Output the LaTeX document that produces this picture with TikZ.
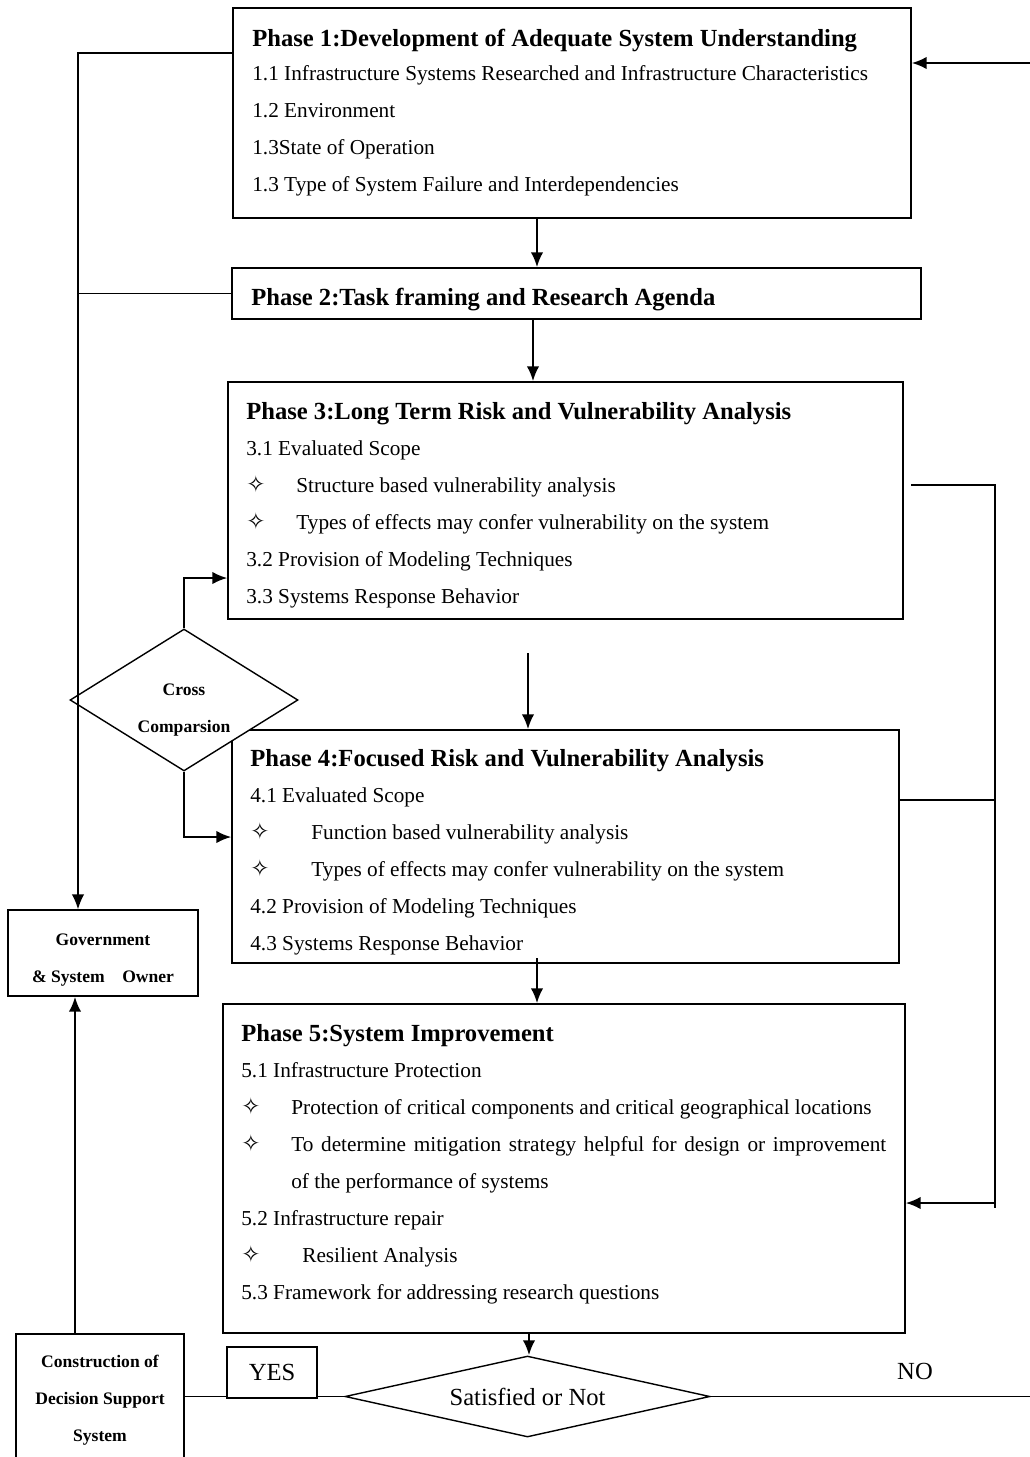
\documentclass[tikz,border=0pt]{standalone}
\usepackage{fontspec}
\setmainfont{Liberation Serif}
\newfontfamily\symfont{DejaVu Sans}
\usetikzlibrary{arrows.meta,shapes.geometric}
\tikzset{
  phasebox/.style = {draw=black, line width=0.8pt, rectangle, inner sep=0pt},
  headtext/.style = {anchor=base west, inner sep=0pt, font=\fontsize{14}{16}\selectfont\bfseries},
  itemtext/.style = {anchor=base west, inner sep=0pt, font=\fontsize{12.1}{14}\selectfont},
  starmark/.style = {anchor=base west, inner sep=0pt, font=\fontsize{13}{15}\symfont},
  smallbold/.style = {align=center, font=\fontsize{10}{21}\selectfont\bfseries},
  decision/.style = {diamond, draw=black, line width=0.8pt, fill=white, inner sep=0pt},
  flow/.style = {line width=1.3pt, -{Latex[length=0.3cm,width=0.25cm]}},
  feed/.style = {line width=0.8pt, -{Latex[length=0.3cm,width=0.25cm]}},
  link/.style = {line width=0.8pt},
}

\begin{document}
\begin{tikzpicture}[x=0.02cm, y=-0.02cm]
\useasboundingbox (0,0) rectangle (1030,1457);
\clip (0,0) rectangle (1030,1457);

% phase boxes
\node [phasebox, minimum width=13.56cm, minimum height=4.2cm] (P1) at (572,113) {};
\node [phasebox, minimum width=13.78cm, minimum height=1.02cm] (P2) at (576.5,293.5) {};
\node [phasebox, minimum width=13.5cm, minimum height=4.74cm] (P3) at (565.5,500.5) {};
\node [phasebox, minimum width=13.34cm, minimum height=4.66cm] (P4) at (565.5,846.5) {};
\node [phasebox, minimum width=13.64cm, minimum height=6.58cm] (P5) at (564,1168.5) {};

% phase 1
\node [headtext] (p1h) at (252,46) {Phase 1:Development of Adequate System Understanding};
\node [itemtext] (p1a) at (252,80) {1.1 Infrastructure Systems Researched and Infrastructure Characteristics};
\node [itemtext] (p1b) at (252,117) {1.2 Environment};
\node [itemtext] (p1c) at (252,154) {1.3State of Operation};
\node [itemtext] (p1d) at (252,191) {1.3 Type of System Failure and Interdependencies};

% phase 2
\node [headtext] (p2h) at (251,305) {Phase 2:Task framing and Research Agenda};

% phase 3
\node [headtext] (p3h) at (246,419) {Phase 3:Long Term Risk and Vulnerability Analysis};
\node [itemtext] (p3a) at (246,455) {3.1 Evaluated Scope};
\node [starmark] (p3s1) at (246,492) {✧};
\node [itemtext] (p3b) at (296,492) {Structure based vulnerability analysis};
\node [starmark] (p3s2) at (246,529) {✧};
\node [itemtext] (p3c) at (296,529) {Types of effects may confer vulnerability on the system};
\node [itemtext] (p3d) at (246,566) {3.2 Provision of Modeling Techniques};
\node [itemtext] (p3e) at (246,603) {3.3 Systems Response Behavior};

% phase 4
\node [headtext] (p4h) at (250,766) {Phase 4:Focused Risk and Vulnerability Analysis};
\node [itemtext] (p4a) at (250,802) {4.1 Evaluated Scope};
\node [starmark] (p4s1) at (250,839) {✧};
\node [itemtext] (p4b) at (311,839) {Function based vulnerability analysis};
\node [starmark] (p4s2) at (250,876) {✧};
\node [itemtext] (p4c) at (311,876) {Types of effects may confer vulnerability on the system};
\node [itemtext] (p4d) at (250,913) {4.2 Provision of Modeling Techniques};
\node [itemtext] (p4e) at (250,950) {4.3 Systems Response Behavior};

% phase 5
\node [headtext] (p5h) at (241,1041) {Phase 5:System Improvement};
\node [itemtext] (p5a) at (241,1077) {5.1 Infrastructure Protection};
\node [starmark] (p5s1) at (241,1114) {✧};
\node [itemtext] (p5b) at (291,1114) {Protection of critical components and critical geographical locations};
\node [starmark] (p5s2) at (241,1151) {✧};
\node [itemtext] (p5c) at (291,1151) {\makebox[11.9cm][s]{To determine mitigation strategy helpful for design or improvement}};
\node [itemtext] (p5d) at (291,1188) {of the performance of systems};
\node [itemtext] (p5e) at (241,1225) {5.2 Infrastructure repair};
\node [starmark] (p5s3) at (241,1262) {✧};
\node [itemtext] (p5f) at (302,1262) {Resilient Analysis};
\node [itemtext] (p5g) at (241,1299) {5.3 Framework for addressing research questions};

% side boxes and decisions
\node [decision, aspect=1.6, minimum width=4.56cm, minimum height=2.84cm] (cross) at (184,700) {};
\node [smallbold] (crosstext) at ([yshift=-0.2cm]cross.center) {Cross\\Comparsion};
\node [phasebox, minimum width=3.8cm, minimum height=1.72cm] (gov) at (103,953) {};
\node [smallbold] (govtext) at ([yshift=-0.14cm]gov.center) {Government\\\& System\quad Owner};
\node [phasebox, minimum width=3.36cm, minimum height=2.64cm, smallbold] (cons) at (100,1400) {Construction of\\Decision Support\\System};
\node [decision, aspect=4.5, minimum width=7.3cm, minimum height=1.62cm, font=\fontsize{14}{16}\selectfont] (sat) at (527.5,1396.5) {Satisfied or Not};
\node [phasebox, minimum width=1.8cm, minimum height=1.02cm, font=\fontsize{14}{16}\selectfont] (yes) at (272,1372.5) {YES};
\node [font=\fontsize{14}{16}\selectfont] (no) at (915,1371) {NO};

% helper coordinates
\coordinate (lft) at (78,0);
\coordinate (rgt) at (995,0);
\coordinate (rin) at (1030,63);
\coordinate (r3) at (911,485);
\coordinate (c34) at (528,653);
\coordinate (c45) at (537,958);
\coordinate (rout) at (1030,0);

% main flow
\draw [flow] (537,0 |- P1.south) -- (537,0 |- P2.north);
\draw [flow] (533,0 |- P2.south) -- (533,0 |- P3.north);
\draw [flow] (c34) -- (c34 |- P4.north);
\draw [flow] (c45) -- (c45 |- P5.north);
\draw [flow] (529,0 |- P5.south) -- (529,0 |- sat.north);
\draw [flow] (rin) -- (P1.east |- rin);

% left feed to government
\draw [feed] (P1.west |- 0,53) -- (lft |- 0,53) -- (lft |- gov.north);
\draw [link] (P2.west) -- (P2.west -| lft);
\draw [flow] (75,0 |- cons.north) -- (75,0 |- gov.south);

% cross comparison
\draw [flow] (cross.north) -- (cross.north |- 0,578) -- (P3.west |- 0,578);
\draw [flow] (cross.south) -- (cross.south |- 0,837) -- (P4.west |- 0,837);

% right loop into phase 5
\draw [link] (r3) -- (r3 -| rgt) -- (rgt |- 0,1208);
\draw [link] (P4.east |- 0,800) -- (rgt |- 0,800);
\draw [flow] (rgt |- 0,1203) -- (P5.east |- 0,1203);

% decision outputs
\draw [link] (sat.west) -- (yes.east |- sat.west);
\draw [link] (yes.west |- sat.west) -- (cons.east |- sat.west);
\draw [link] (sat.east) -- (rout |- sat.east);
\end{tikzpicture}
\end{document}
